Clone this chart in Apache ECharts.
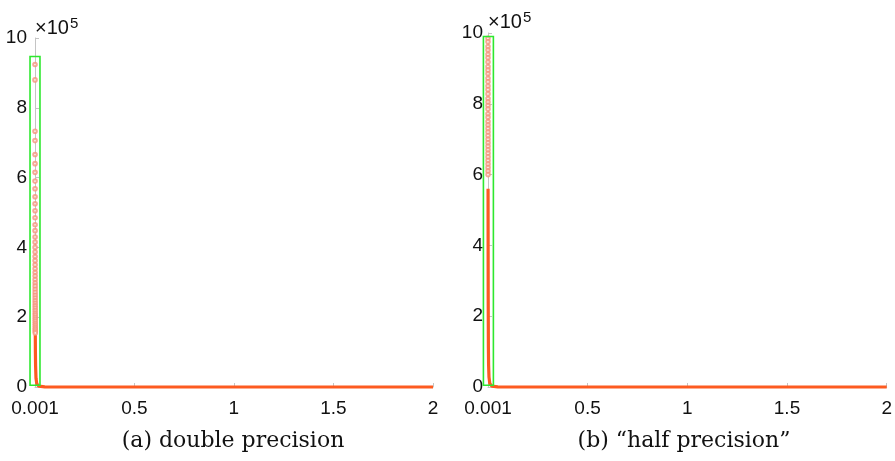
<!DOCTYPE html>
<html>
<head>
<meta charset="utf-8">
<script src="https://cdn.jsdelivr.net/npm/echarts@6/dist/echarts.min.js"></script>
<style>html,body{margin:0;padding:0;background:#fff}#c{width:895px;height:461px}</style>
</head>
<body>
<div id="c"></div>
<script>
// ---- tick labels ----
const xTickValues = [0.001, 0.5, 1, 1.5, 2];
const xTickLabels = ['0.001', '0.5', '1', '1.5', '2'];
const yTickLabels = ['0', '2', '4', '6', '8', '10']; // units of 1e5
const captions = ['(a) double precision', '(b) \u201chalf precision\u201d'];

// ---- panel (a): double precision (y in units of 1e5) ----
const aCurveX = [2, 1.5, 1, 0.5, 0.2, 0.1, 0.05, 0.02, 0.01, 0.006, 0.004, 0.003, 0.0025];
const aCurveY = [0, 0, 0, 0, 0, 0, 0.004, 0.025, 0.09, 0.25, 0.6, 1.0, 1.5];
const aPointX = [0.00100, 0.00102, 0.00112, 0.00114, 0.00118, 0.00120, 0.00123, 0.00125, 0.00128, 0.00130,
  0.00133, 0.00135, 0.00138, 0.00141, 0.00144, 0.00147, 0.00149, 0.00152, 0.00155, 0.00157,
  0.00160, 0.00162, 0.00165, 0.00168, 0.00170, 0.00172, 0.00176, 0.00179, 0.00182, 0.00185,
  0.00187, 0.00190, 0.00193, 0.00196, 0.00199, 0.00202, 0.00205, 0.00209, 0.00212, 0.00215,
  0.00218, 0.00222, 0.00225, 0.00229, 0.00233, 0.00237, 0.00240, 0.00244];
const aPointY = [9.24, 8.8, 7.33, 7.06, 6.66, 6.40, 6.15, 5.90, 5.68, 5.45,
  5.25, 5.05, 4.85, 4.65, 4.48, 4.30, 4.15, 4.00, 3.87, 3.74,
  3.62, 3.50, 3.39, 3.28, 3.18, 3.08, 2.98, 2.89, 2.80, 2.71,
  2.63, 2.55, 2.47, 2.40, 2.33, 2.26, 2.19, 2.12, 2.06, 2.00,
  1.94, 1.88, 1.82, 1.76, 1.70, 1.65, 1.60, 1.55];
const aBox = [-0.024, 0.05, 0.026, 9.47]; // x0, y0, x1, y1

// ---- panel (b): "half precision" ----
const bCurveX = [2, 1.5, 1, 0.5, 0.2, 0.1, 0.05, 0.02, 0.01, 0.006, 0.004, 0.003, 0.002, 0.0016, 0.0013];
const bCurveY = [0, 0, 0, 0, 0, 0, 0.005, 0.025, 0.1, 0.28, 0.62, 1.1, 2.5, 3.9, 5.6];
const bPointX = [0.00100, 0.00101, 0.00102, 0.00102, 0.00103, 0.00104, 0.00105, 0.00105, 0.00106, 0.00107,
  0.00108, 0.00108, 0.00109, 0.00110, 0.00111, 0.00112, 0.00112, 0.00113, 0.00114, 0.00115,
  0.00116, 0.00117, 0.00118, 0.00118, 0.00119, 0.00120, 0.00121, 0.00122, 0.00123, 0.00124,
  0.00125, 0.00126, 0.00127, 0.00128, 0.00129, 0.00130, 0.00131];
const bPointY = [9.85, 9.75, 9.62, 9.52, 9.40, 9.30, 9.18, 9.05, 8.95, 8.85,
  8.72, 8.62, 8.50, 8.40, 8.28, 8.15, 8.05, 7.95, 7.85, 7.72,
  7.62, 7.50, 7.40, 7.30, 7.20, 7.10, 7.00, 6.90, 6.80, 6.70,
  6.60, 6.50, 6.40, 6.30, 6.20, 6.10, 6.00];
const bBox = [-0.022, 0.05, 0.028, 9.9];

// ---- build ----
const zip = (xs, ys) => xs.map((x, i) => [x, ys[i]]);

const ORANGE = '#fd5b20';
const MARK = '#f4957a';
const GREEN = '#2ee82e';
const AXISG = '#c4c4c4';
const SANS = '"Liberation Sans", Arial, sans-serif';

function xAxis(gi) {
  return {
    type: 'value', gridIndex: gi, min: 0.001, max: 2,
    axisLine: { show: true, lineStyle: { color: AXISG } },
    axisTick: { show: true, inside: true, length: 4, lineStyle: { color: AXISG }, customValues: xTickValues },
    axisLabel: {
      show: true, margin: 12, fontSize: 19, color: '#111', fontFamily: SANS,
      customValues: xTickValues,
      formatter: v => { const i = xTickValues.findIndex(t => Math.abs(t - v) < 1e-9); return i >= 0 ? xTickLabels[i] : ''; }
    },
    splitLine: { show: false }
  };
}
function yAxis(gi, labelMargin, nameGap) {
  return {
    type: 'value', gridIndex: gi, min: 0, max: 10, interval: 2,
    name: '{b|\u00d710}{s|5}', nameLocation: 'end', nameGap: nameGap,
    nameTextStyle: {
      align: 'left', verticalAlign: 'bottom', fontSize: 19, color: '#111', fontFamily: SANS,
      rich: {
        b: { fontSize: 20, color: '#111', fontFamily: SANS, verticalAlign: 'bottom', lineHeight: 22 },
        s: { fontSize: 15, color: '#111', fontFamily: SANS, verticalAlign: 'top', lineHeight: 16, padding: [0, 0, 17, 1] }
      }
    },
    axisLine: { show: true, lineStyle: { color: AXISG } },
    axisTick: { show: true, inside: true, length: 4, lineStyle: { color: AXISG } },
    axisLabel: {
      show: true, margin: labelMargin, fontSize: 19, color: '#111', fontFamily: SANS,
      formatter: v => yTickLabels[Math.round(v / 2)]
    },
    splitLine: { show: false }
  };
}
function panelSeries(gi, cx, cy, px, py, bx) {
  return [
    { type: 'line', xAxisIndex: gi, yAxisIndex: gi, data: zip(cx, cy), showSymbol: false, symbol: 'none',
      lineStyle: { color: ORANGE, width: 3.2 }, clip: false, silent: true, z: 3 },
    { type: 'scatter', xAxisIndex: gi, yAxisIndex: gi, data: zip(px, py), symbol: 'emptyCircle', symbolSize: 3.6,
      itemStyle: { color: MARK, borderWidth: 0.9 }, clip: false, silent: true, z: 4 },
    { type: 'custom', xAxisIndex: gi, yAxisIndex: gi, data: [bx], clip: false, silent: true, z: 5,
      renderItem: (params, api) => {
        const p0 = api.coord([api.value(0), api.value(1)]);
        const p1 = api.coord([api.value(2), api.value(3)]);
        return { type: 'rect', shape: { x: p0[0], y: p1[1], width: p1[0] - p0[0], height: p0[1] - p1[1] },
          style: { fill: 'none', stroke: GREEN, lineWidth: 1.6 } };
      } }
  ];
}

const chart = echarts.init(document.getElementById('c'), null, { renderer: 'canvas' });
chart.setOption({
  animation: false,
  backgroundColor: '#fff',
  grid: [
    { left: 35, top: 38, width: 398, height: 349 },
    { left: 488, top: 33, width: 399, height: 354 }
  ],
  xAxis: [xAxis(0), xAxis(1)],
  yAxis: [yAxis(0, 8, 0), yAxis(1, 5, 1)],
  series: [
    ...panelSeries(0, aCurveX, aCurveY, aPointX, aPointY, aBox),
    ...panelSeries(1, bCurveX, bCurveY, bPointX, bPointY, bBox)
  ],
  graphic: [
    { type: 'text', x: 233, y: 441, style: { text: captions[0], font: '22px "DejaVu Serif", serif', fill: '#111', textAlign: 'center', textVerticalAlign: 'middle' } },
    { type: 'text', x: 684, y: 441, style: { text: captions[1], font: '22px "DejaVu Serif", serif', fill: '#111', textAlign: 'center', textVerticalAlign: 'middle' } }
  ]
});
</script>
</body>
</html>
